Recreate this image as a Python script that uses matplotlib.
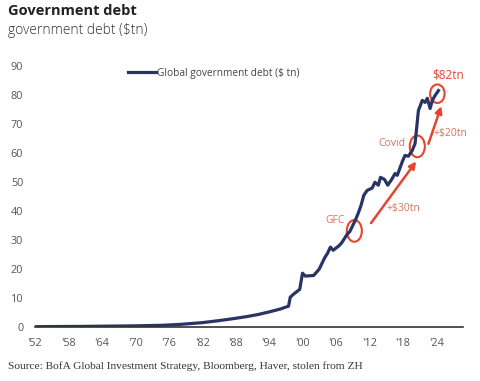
import matplotlib
matplotlib.use("Agg")
import matplotlib.pyplot as plt
from matplotlib.patches import Ellipse

years = [1952, 1955, 1960, 1965, 1970, 1975, 1978, 1980, 1982, 1985, 1988, 1990,
         1992, 1994, 1996, 1997.5, 1997.8, 1998.5, 1999.5, 2000.0, 2000.5, 2002.0,
         2003.0, 2004.0, 2004.5, 2005.0, 2005.5, 2006.5, 2007.0, 2008.0, 2008.5,
         2009.5, 2010.0, 2010.5, 2011.0, 2011.6, 2012.5, 2013.0, 2013.6, 2014.0,
         2014.7, 2015.3, 2016.0, 2016.6, 2017.0, 2017.5, 2018.0, 2018.4, 2019.0,
         2019.7, 2020.2, 2020.8, 2021.5, 2022.0, 2022.4, 2022.9, 2023.3, 2023.8, 2024.4]
debt = [0.1, 0.15, 0.2, 0.3, 0.4, 0.6, 0.9, 1.2, 1.5, 2.2, 3.0, 3.6,
        4.3, 5.2, 6.2, 7.2, 10.3, 11.5, 13.0, 18.6, 17.6, 17.8,
        20.0, 24.0, 25.5, 27.6, 26.5, 28.0, 29.0, 32.0, 33.0,
        37.0, 39.3, 42.0, 45.5, 47.2, 48.0, 50.0, 49.0, 51.7,
        51.0, 49.0, 51.0, 53.0, 52.4, 55.0, 57.6, 59.3, 59.0,
        61.0, 63.4, 74.8, 78.3, 77.6, 79.0, 75.5, 78.3, 80.0, 81.7]

xticks = [1952, 1958, 1964, 1970, 1976, 1982, 1988, 1994, 2000, 2006, 2012, 2018, 2024]
xticklabels = ["'52", "'58", "'64", "'70", "'76", "'82", "'88", "'94", "'00", "'06", "'12", "'18", "'24"]
yticks = [0, 10, 20, 30, 40, 50, 60, 70, 80, 90]

navy = "#283464"
red = "#e5452f"
lab = "#d9735e"
grey = "#555555"

W, H = 480, 381
fig = plt.figure(figsize=(4.8, 3.81), dpi=100)
ax = fig.add_axes([35 / W, 1 - 327 / H, (463 - 35) / W, (327 - 66.5) / H])

ax.plot(years, debt, color=navy, lw=2.3, solid_joinstyle="round",
        label="Global government debt ($ tn)")
ax.set_xlim(1952, 2028.8)
ax.set_ylim(0, 90)

for s in ["top", "right", "left"]:
    ax.spines[s].set_visible(False)
ax.spines["bottom"].set_color("#333333")
ax.spines["bottom"].set_linewidth(1.2)
ax.set_xticks(xticks)
ax.set_xticklabels(xticklabels)
ax.set_yticks(yticks)
ax.tick_params(axis="both", length=0, labelsize=7.8, labelcolor=grey)
ax.tick_params(axis="y", pad=8.5)
ax.tick_params(axis="x", pad=8)
for t in ax.get_xticklabels() + ax.get_yticklabels():
    t.set_family("Open Sans")

leg = ax.legend(loc="upper left", bbox_to_anchor=(0.195, 1.03), frameon=False,
                handlelength=2.8, handletextpad=0.15,
                prop={"family": "Open Sans", "size": 7.3})
for t in leg.get_texts():
    t.set_color("#444444")

# annotations
for (cx, cy, w, h) in [(2009.3, 33.2, 2.7, 7.5), (2020.6, 62.4, 2.7, 7.5), (2024.2, 80.6, 2.6, 6.4)]:
    ax.add_patch(Ellipse((cx, cy), w, h, fill=False, ec=red, lw=1.5, clip_on=False))

ax.annotate("", xy=(2020.4, 57.2), xytext=(2012.3, 35.9),
            arrowprops=dict(arrowstyle="-|>", color=red, lw=1.8, mutation_scale=10,
                            shrinkA=0, shrinkB=0))
ax.annotate("", xy=(2024.9, 76.3), xytext=(2022.6, 63.3),
            arrowprops=dict(arrowstyle="-|>", color=red, lw=1.8, mutation_scale=10,
                            shrinkA=0, shrinkB=0))

ax.text(2005.9, 36.9, "GFC", color=lab, fontsize=7.5, family="Open Sans", ha="center", va="center")
ax.text(2016.1, 63.4, "Covid", color=lab, fontsize=7.5, family="Open Sans", ha="center", va="center")
ax.text(2018.1, 41.0, "+$30tn", color=lab, fontsize=7.5, family="Open Sans", ha="center", va="center")
ax.text(2026.5, 66.9, "+$20tn", color=lab, fontsize=7.5, family="Open Sans", ha="center", va="center")
ax.text(2026.1, 86.9, "$82tn", color=red, fontsize=8.5, family="Open Sans", ha="center", va="center")

fig.text(8 / W, 1 - 11 / H, "Government debt", fontsize=10.5, fontweight="bold",
         family="Open Sans", color="#222222", va="center", ha="left")
fig.text(8 / W, 1 - 30 / H, "government debt ($tn)", fontsize=10, fontweight="light",
         family="Open Sans", color="#333333", va="center", ha="left")
fig.text(8 / W, 1 - 366 / H, "Source: BofA Global Investment Strategy, Bloomberg, Haver, stolen from ZH",
         fontsize=8.2, family="Liberation Serif", color="#333333", va="center", ha="left")

fig.savefig("out.png", dpi=100, facecolor="white")
